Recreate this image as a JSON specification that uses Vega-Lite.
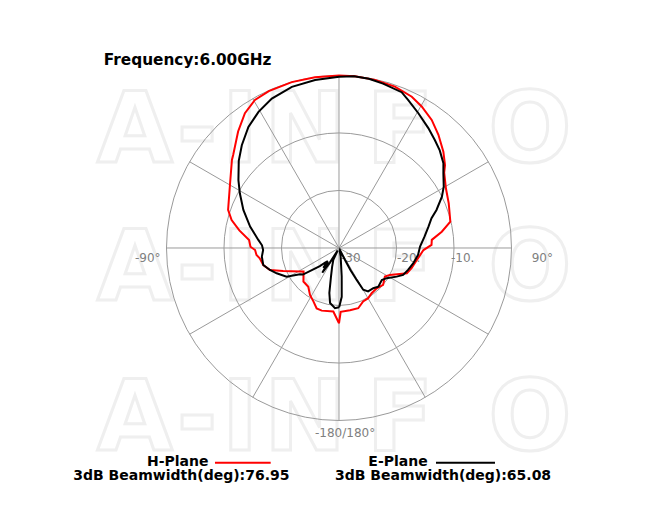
{
  "$schema": "https://vega.github.io/schema/vega-lite/v6.json",
  "width": 665,
  "height": 510,
  "autosize": {"type": "fit", "contains": "padding"},
  "padding": 0,
  "background": "white",
  "config": {"view": {"stroke": null}},
  "datasets": {
    "watermark": [
      {"ch": "A", "x": -35.48, "y": 14.96}, {"ch": "-", "x": -24.7, "y": 14.96}, {"ch": "I", "x": -17.22, "y": 14.96}, {"ch": "N", "x": -5.91, "y": 14.96}, {"ch": "F", "x": 10.61, "y": 14.96}, {"ch": "O", "x": 33.22, "y": 14.96},
      {"ch": "A", "x": -35.48, "y": -9.04}, {"ch": "-", "x": -24.7, "y": -9.04}, {"ch": "I", "x": -17.22, "y": -9.04}, {"ch": "N", "x": -5.91, "y": -9.04}, {"ch": "F", "x": 10.61, "y": -9.04}, {"ch": "O", "x": 33.22, "y": -9.04},
      {"ch": "A", "x": -35.48, "y": -35.13}, {"ch": "-", "x": -24.7, "y": -35.13}, {"ch": "I", "x": -17.22, "y": -35.13}, {"ch": "N", "x": -5.91, "y": -35.13}, {"ch": "F", "x": 10.61, "y": -35.13}, {"ch": "O", "x": 33.22, "y": -35.13}
    ],
    "rings": [{"r": 10, "c": 0}, {"r": 20, "c": 0}, {"r": 30, "c": 0}],
    "spokes": [{"a": 0}, {"a": 30}, {"a": 60}, {"a": 90}, {"a": 120}, {"a": 150}],
    "hplane": [
      {"angle": -180, "level": -16.9}, {"angle": -174.9, "level": -18.9}, {"angle": -164.6, "level": -18.7}, {"angle": -159.7, "level": -18.8},
      {"angle": -154.4, "level": -19.7}, {"angle": -148.3, "level": -20.4}, {"angle": -141.6, "level": -21.4}, {"angle": -133.3, "level": -21.5},
      {"angle": -123.6, "level": -22.6}, {"angle": -121.3, "level": -22.1}, {"angle": -112.4, "level": -19.5}, {"angle": -107.7, "level": -17.4},
      {"angle": -102.7, "level": -16.5}, {"angle": -97.4, "level": -16.1}, {"angle": -94.9, "level": -15.6}, {"angle": -91.4, "level": -15.4},
      {"angle": -89.2, "level": -14.6}, {"angle": -85, "level": -14.3}, {"angle": -80, "level": -12.4}, {"angle": -75.4, "level": -10.7},
      {"angle": -71, "level": -9.6}, {"angle": -60, "level": -8.1}, {"angle": -50.6, "level": -5.9}, {"angle": -48.7, "level": -5.5},
      {"angle": -40.9, "level": -3.2}, {"angle": -34.9, "level": -1.4}, {"angle": -29.6, "level": -0.4}, {"angle": -24.1, "level": -0.1},
      {"angle": -15.9, "level": 0}, {"angle": -8, "level": 0}, {"angle": 0, "level": 0}, {"angle": 5.3, "level": 0},
      {"angle": 12.1, "level": -0.1}, {"angle": 19.1, "level": -0.3}, {"angle": 25.7, "level": -0.8}, {"angle": 30.3, "level": -1.5},
      {"angle": 35.9, "level": -2.5}, {"angle": 41.3, "level": -3.8}, {"angle": 47.3, "level": -5.3}, {"angle": 52, "level": -6.6},
      {"angle": 54.4, "level": -7.5}, {"angle": 60.8, "level": -8.7}, {"angle": 67.9, "level": -9.4}, {"angle": 76.7, "level": -10.1},
      {"angle": 81, "level": -11.9}, {"angle": 85, "level": -13.8}, {"angle": 88.1, "level": -13.9}, {"angle": 91.4, "level": -15.3},
      {"angle": 98.8, "level": -16.3}, {"angle": 105.6, "level": -16.9}, {"angle": 110.5, "level": -17.4}, {"angle": 117.9, "level": -20.0},
      {"angle": 121.9, "level": -20.6}, {"angle": 129.9, "level": -20.0}, {"angle": 136.9, "level": -20.4}, {"angle": 144.2, "level": -20.3},
      {"angle": 149.8, "level": -19.9}, {"angle": 155.7, "level": -19.8}, {"angle": 162.3, "level": -19.0}, {"angle": 170, "level": -19.0},
      {"angle": 178.5, "level": -18.9}, {"angle": 180, "level": -16.9}
    ],
    "eplane": [
      {"angle": -180, "level": -19.7}, {"angle": -176.2, "level": -19.5}, {"angle": -170.8, "level": -20.3}, {"angle": -167.9, "level": -22.0},
      {"angle": -164.4, "level": -24.8}, {"angle": -160, "level": -26.5}, {"angle": -154.6, "level": -27.7}, {"angle": -151, "level": -29.5},
      {"angle": -148, "level": -27.0}, {"angle": -146, "level": -24.8}, {"angle": -143, "level": -26.9}, {"angle": -141.5, "level": -25.6},
      {"angle": -139.5, "level": -27.0}, {"angle": -136.4, "level": -26.5}, {"angle": -133.5, "level": -25.4}, {"angle": -129.7, "level": -24.2},
      {"angle": -126.4, "level": -22.2}, {"angle": -124, "level": -21.8}, {"angle": -118.7, "level": -19.6}, {"angle": -112.1, "level": -18.3},
      {"angle": -107.7, "level": -17.4}, {"angle": -102.7, "level": -16.5}, {"angle": -96.4, "level": -16.5}, {"angle": -91.5, "level": -16.8},
      {"angle": -88, "level": -16.6}, {"angle": -84.3, "level": -15.9}, {"angle": -76.5, "level": -14.1}, {"angle": -68.3, "level": -12.1},
      {"angle": -61.1, "level": -10.3}, {"angle": -56, "level": -8.9}, {"angle": -49, "level": -6.9}, {"angle": -43.4, "level": -5.4},
      {"angle": -36.8, "level": -3.7}, {"angle": -30.6, "level": -2.5}, {"angle": -24.2, "level": -1.5}, {"angle": -16.3, "level": -0.8},
      {"angle": -8.1, "level": -0.5}, {"angle": 0, "level": -0.2}, {"angle": 5, "level": 0}, {"angle": 10, "level": -0.1},
      {"angle": 15, "level": -0.4}, {"angle": 21.9, "level": -0.8}, {"angle": 25.1, "level": -1.6}, {"angle": 30.5, "level": -2.8},
      {"angle": 36.7, "level": -4.0}, {"angle": 41.6, "level": -4.9}, {"angle": 45.9, "level": -5.6}, {"angle": 50.9, "level": -6.6},
      {"angle": 54.5, "level": -7.7}, {"angle": 59.7, "level": -8.9}, {"angle": 63.5, "level": -10.0}, {"angle": 68.7, "level": -11.8},
      {"angle": 72.2, "level": -13.1}, {"angle": 76.6, "level": -14.0}, {"angle": 82.5, "level": -15.0}, {"angle": 89, "level": -15.9},
      {"angle": 95, "level": -16.2}, {"angle": 101.6, "level": -16.8}, {"angle": 107.6, "level": -17.4}, {"angle": 112.8, "level": -17.9},
      {"angle": 116.4, "level": -18.8}, {"angle": 122.4, "level": -20.2}, {"angle": 126.8, "level": -20.7}, {"angle": 134.6, "level": -20.4},
      {"angle": 139.6, "level": -20.8}, {"angle": 146.2, "level": -20.9}, {"angle": 149.9, "level": -21.6}, {"angle": 151, "level": -23.6},
      {"angle": 152.5, "level": -25.7}, {"angle": 153.5, "level": -27.7}, {"angle": 156, "level": -29.6}, {"angle": 165, "level": -29.5},
      {"angle": 169, "level": -28.5}, {"angle": 174.6, "level": -25.0}, {"angle": 176.8, "level": -21.5}, {"angle": 179.7, "level": -19.8},
      {"angle": 180, "level": -19.7}
    ],
    "legendlines": [
      {"plane": "H-Plane", "x1": -21.57, "x2": -11.88, "y": -37.34},
      {"plane": "E-Plane", "x1": 16.87, "x2": 27.13, "y": -37.34}
    ],
    "titletext": [
      {"t": "Frequency:6.00GHz", "x": -40.9, "y": 31.74}
    ],
    "blacktext": [
      {"t": "H-Plane", "x": -33.39, "y": -37.91},
      {"t": "E-Plane", "x": 5.1, "y": -37.91},
      {"t": "3dB Beamwidth(deg):76.95", "x": -46.21, "y": -40.43},
      {"t": "3dB Beamwidth(deg):65.08", "x": -0.7, "y": -40.43}
    ],
    "graytext": [
      {"t": "-90°", "x": -35.48, "y": -2.38},
      {"t": "90°", "x": 33.51, "y": -2.38},
      {"t": "-180/180°", "x": -4.17, "y": -32.87},
      {"t": "-30", "x": 0.35, "y": -2.38},
      {"t": "-20.", "x": 10.09, "y": -2.38},
      {"t": "-10.", "x": 19.48, "y": -2.38}
    ]
  },
  "layer": [
    {
      "data": {"name": "watermark"},
      "mark": {"type": "text", "font": "DejaVu Sans", "fontWeight": "bold", "fontSize": 98, "align": "center", "baseline": "alphabetic", "fill": "#ffffff", "stroke": "#efefef", "strokeWidth": 3},
      "encoding": {
        "x": {"field": "x", "type": "quantitative", "scale": {"domain": [-58.96, 56.7], "nice": false, "zero": false}, "axis": null},
        "y": {"field": "y", "type": "quantitative", "scale": {"domain": [-45.57, 43.13], "nice": false, "zero": false}, "axis": null},
        "text": {"field": "ch", "type": "nominal"}
      }
    },
    {
      "data": {"name": "rings"},
      "mark": {"type": "point", "shape": "circle", "filled": false, "stroke": "#9a9a9a", "strokeWidth": 1, "opacity": 1},
      "encoding": {
        "x": {"field": "c", "type": "quantitative"},
        "y": {"field": "c", "type": "quantitative"},
        "size": {"field": "r", "type": "quantitative", "scale": {"type": "pow", "exponent": 2, "domain": [0, 30], "range": [0, 119025]}, "legend": null}
      }
    },
    {
      "data": {"name": "spokes"},
      "transform": [
        {"calculate": "30*sin(datum.a*PI/180)", "as": "sx"},
        {"calculate": "30*cos(datum.a*PI/180)", "as": "sy"},
        {"calculate": "-30*sin(datum.a*PI/180)", "as": "ex"},
        {"calculate": "-30*cos(datum.a*PI/180)", "as": "ey"}
      ],
      "mark": {"type": "rule", "stroke": "#9a9a9a", "strokeWidth": 1},
      "encoding": {
        "x": {"field": "ex", "type": "quantitative"},
        "y": {"field": "ey", "type": "quantitative"},
        "x2": {"field": "sx"},
        "y2": {"field": "sy"}
      }
    },
    {
      "data": {"name": "graytext"},
      "mark": {"type": "text", "font": "DejaVu Sans", "fontSize": 12, "align": "left", "baseline": "alphabetic", "fill": "#808080"},
      "encoding": {
        "x": {"field": "x", "type": "quantitative"},
        "y": {"field": "y", "type": "quantitative"},
        "text": {"field": "t", "type": "nominal"}
      }
    },
    {
      "data": {"name": "hplane"},
      "transform": [
        {"calculate": "(datum.level+30)*sin(datum.angle*PI/180)", "as": "px"},
        {"calculate": "(datum.level+30)*cos(datum.angle*PI/180)", "as": "py"}
      ],
      "mark": {"type": "line", "stroke": "#ff0000", "strokeWidth": 2},
      "encoding": {
        "x": {"field": "px", "type": "quantitative"},
        "y": {"field": "py", "type": "quantitative"},
        "order": {"field": "angle", "type": "quantitative"}
      }
    },
    {
      "data": {"name": "eplane"},
      "transform": [
        {"calculate": "(datum.level+30)*sin(datum.angle*PI/180)", "as": "px"},
        {"calculate": "(datum.level+30)*cos(datum.angle*PI/180)", "as": "py"}
      ],
      "mark": {"type": "line", "stroke": "#000000", "strokeWidth": 2},
      "encoding": {
        "x": {"field": "px", "type": "quantitative"},
        "y": {"field": "py", "type": "quantitative"},
        "order": {"field": "angle", "type": "quantitative"}
      }
    },
    {
      "data": {"name": "legendlines"},
      "mark": {"type": "rule", "strokeWidth": 2},
      "encoding": {
        "x": {"field": "x1", "type": "quantitative"},
        "x2": {"field": "x2"},
        "y": {"field": "y", "type": "quantitative"},
        "color": {"field": "plane", "type": "nominal", "scale": {"domain": ["H-Plane", "E-Plane"], "range": ["#ff0000", "#000000"]}, "legend": null}
      }
    },
    {
      "data": {"name": "titletext"},
      "mark": {"type": "text", "font": "DejaVu Sans", "fontWeight": "bold", "fontSize": 15.3, "align": "left", "baseline": "alphabetic", "fill": "#000000"},
      "encoding": {
        "x": {"field": "x", "type": "quantitative"},
        "y": {"field": "y", "type": "quantitative"},
        "text": {"field": "t", "type": "nominal"}
      }
    },
    {
      "data": {"name": "blacktext"},
      "mark": {"type": "text", "font": "DejaVu Sans", "fontWeight": "bold", "fontSize": 14, "align": "left", "baseline": "alphabetic", "fill": "#000000"},
      "encoding": {
        "x": {"field": "x", "type": "quantitative"},
        "y": {"field": "y", "type": "quantitative"},
        "text": {"field": "t", "type": "nominal"}
      }
    }
  ]
}
